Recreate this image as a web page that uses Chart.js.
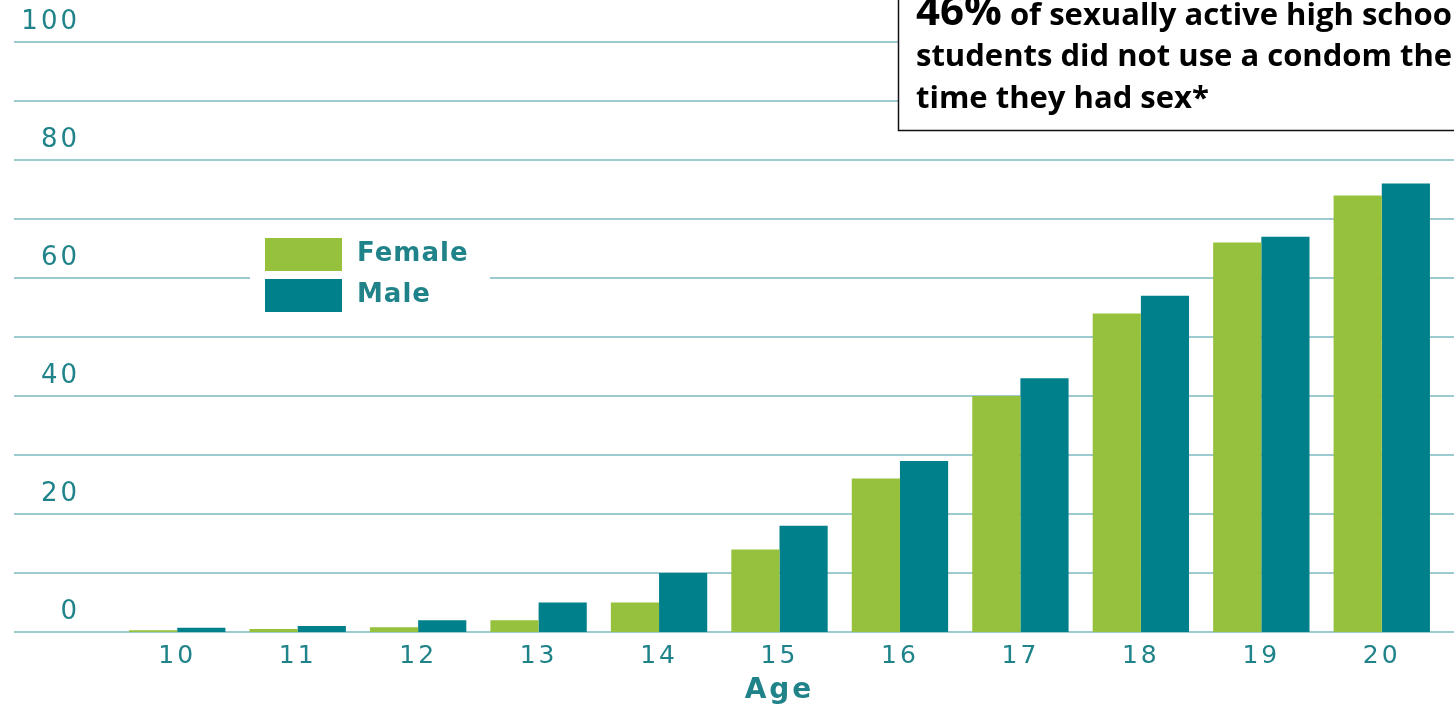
<!DOCTYPE html>
<html>
<head>
<meta charset="utf-8">
<script src="https://cdn.jsdelivr.net/npm/chart.js@4/dist/chart.umd.min.js"></script>
<style>
  html, body { margin: 0; padding: 0; background: #fff; }
  #wrap { width: 1454px; height: 708px; position: relative; }
</style>
</head>
<body>
<div id="wrap"><canvas id="ageChart"></canvas></div>
<script>
// ages and share (%) who have had sex, by sex
const ages = ['10', '11', '12', '13', '14', '15', '16', '17', '18', '19', '20'];
const female = [0.3, 0.5, 0.8, 2, 5, 14, 26, 40, 54, 66, 74];
const male = [0.7, 1, 2, 5, 10, 18, 29, 43, 57, 67, 76];
const gridSteps = [0, 10, 20, 30, 40, 50, 60, 70, 80, 90, 100];
const yTicks = [0, 20, 40, 60, 80, 100];

const teal = '#00808A';
const green = '#96C13D';
const gridColor = '#9CCACF';
const labelColor = '#1F8389';

// wide letter spacing for the axis and legend text
const spacing = {
  id: 'spacing',
  beforeDraw(chart) { chart.ctx.letterSpacing = '3px'; }
};

// horizontal rules run the full width, past the axis labels
const fullGrid = {
  id: 'fullGrid',
  beforeDatasetsDraw(chart) {
    const ctx = chart.ctx;
    const y = chart.scales.y;
    ctx.save();
    ctx.strokeStyle = gridColor;
    ctx.lineWidth = 2;
    y.ticks.forEach(t => {
      const py = Math.round(y.getPixelForValue(t.value));
      ctx.beginPath();
      ctx.moveTo(14, py);
      ctx.lineTo(chart.width, py);
      ctx.stroke();
    });
    ctx.restore();
  }
};

// legend box sitting on top of the rules
const boxLegend = {
  id: 'boxLegend',
  afterDatasetsDraw(chart) {
    const ctx = chart.ctx;
    ctx.save();
    ctx.fillStyle = '#fff';
    ctx.fillRect(250, 226, 240, 100);
    ctx.letterSpacing = '1px';
    chart.data.datasets.forEach((ds, i) => {
      const top = 238 + i * 41;
      ctx.fillStyle = ds.backgroundColor;
      ctx.fillRect(265, top, 77, 33);
      ctx.fillStyle = labelColor;
      ctx.font = 'bold 26px "DejaVu Sans"';
      ctx.textBaseline = 'middle';
      ctx.fillText(ds.label, 357, top + 16);
    });
    ctx.restore();
  }
};

// note in the top right corner
const note = {
  id: 'note',
  afterDraw(chart) {
    const ctx = chart.ctx;
    ctx.save();
    ctx.letterSpacing = '0px';
    ctx.fillStyle = '#fff';
    ctx.strokeStyle = '#111';
    ctx.lineWidth = 1.5;
    ctx.fillRect(898, -5, 600, 135);
    ctx.strokeRect(898.5, -5, 600, 135.5);
    ctx.fillStyle = '#000';
    ctx.textBaseline = 'alphabetic';
    ctx.font = 'bold 42px "Open Sans"';
    ctx.fillText('46%', 916, 25);
    const w = ctx.measureText('46%').width;
    ctx.font = 'bold 31px "Open Sans"';
    ctx.fillText(' of sexually active high school', 916 + w, 25);
    ctx.fillText('students did not use a condom the last', 916, 66);
    ctx.fillText('time they had sex*', 916, 108);
    ctx.restore();
  }
};

new Chart(document.getElementById('ageChart'), {
  type: 'bar',
  data: {
    labels: ages,
    datasets: [
      { label: 'Female', data: female, backgroundColor: green },
      { label: 'Male', data: male, backgroundColor: teal }
    ]
  },
  options: {
    responsive: true,
    maintainAspectRatio: false,
    animation: false,
    layout: { padding: { top: 42, right: 12, left: 0, bottom: 0 } },
    datasets: { bar: { categoryPercentage: 0.8, barPercentage: 1.0 } },
    plugins: { legend: { display: false }, tooltip: { enabled: false } },
    scales: {
      x: {
        grid: { display: false, drawTicks: false },
        border: { display: false },
        ticks: { color: labelColor, font: { family: 'DejaVu Sans', size: 25 }, padding: 9 },
        title: {
          display: true, text: 'Age', color: labelColor,
          font: { family: 'DejaVu Sans', size: 28, weight: 'bold' },
          padding: { top: 0, bottom: 0 }
        },
        afterFit(scale) { scale.height = 76; }
      },
      y: {
        min: 0, max: 100,
        grid: { display: false, drawTicks: false },
        border: { display: false },
        afterBuildTicks(scale) { scale.ticks = gridSteps.map(v => ({ value: v })); },
        ticks: {
          color: labelColor, font: { family: 'DejaVu Sans', size: 26 },
          padding: 37, labelOffset: -20,
          callback: v => yTicks.includes(v) ? String(v) : ''
        },
        afterFit(scale) {
          scale.width = 117;
          scale.paddingTop = 0;
          scale.paddingBottom = 0;
        }
      }
    }
  },
  plugins: [spacing, fullGrid, boxLegend, note]
});
</script>
</body>
</html>
